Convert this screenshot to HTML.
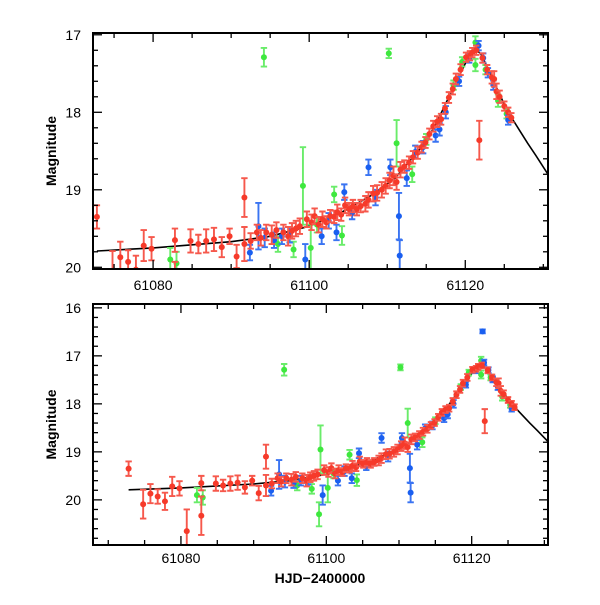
<!DOCTYPE html>
<html><head><meta charset="utf-8"><style>
html,body{margin:0;padding:0;background:#fff}
svg text{font-family:"Liberation Sans",sans-serif;font-size:14px;fill:#000}
</style></head><body>
<svg id="chart" width="600" height="600" viewBox="0 0 600 600" xmlns="http://www.w3.org/2000/svg"></svg>
<script>
const redT=[61072.8,61074.8,61075.8,61076.8,61077.8,61078.8,61079.8,61080.8,61082.8,61082.8,61084.8,61085.8,61086.8,61087.8,61088.8,61089.8,61090.7,61091.7,61091.7,61092.5,61093.3,61093.8,61094.5,61095.2,61095.8,61096.7,61097.3,61097.8,61098.3,61098.8,61099.7,61100.3,61100.7,61101.2,61101.7,61102.2,61102.7,61103.2,61103.6,61104.1,61104.6,61105.1,61105.6,61106.1,61106.6,61107.2,61107.6,61108.2,61108.7,61109.3,61109.8,61110.3,61110.8,61111.2,61111.7,61112.2,61112.8,61113.3,61113.9,61114.4,61114.9,61115.4,61115.9,61116.4,61116.9,61117.4,61117.9,61118.4,61118.8,61119.4,61120.1,61120.6,61120.9,61121.4,61121.8,61122.2,61122.8,61123.4,61123.7,61124.0,61124.4,61125.0,61125.5,61125.9];
const redM=[19.35,20.09,19.87,19.93,20.03,19.72,19.76,20.65,20.33,19.65,19.66,19.70,19.66,19.64,19.74,19.60,19.86,19.10,19.70,19.66,19.55,19.62,19.55,19.58,19.52,19.55,19.60,19.53,19.50,19.47,19.38,19.42,19.34,19.45,19.38,19.42,19.34,19.35,19.29,19.32,19.20,19.25,19.21,19.25,19.21,19.18,19.13,19.05,19.04,19.00,18.95,18.88,18.82,18.90,18.74,18.70,18.65,18.58,18.52,18.45,18.39,18.28,18.18,18.12,18.09,17.95,17.81,17.70,17.57,17.45,17.29,17.27,17.23,17.20,18.36,17.30,17.45,17.55,17.57,17.73,17.80,17.92,18.00,18.07];
const redE=[.15,.3,.2,.15,.18,.2,.15,.45,.4,.15,.15,.12,.15,.15,.13,.1,.15,.25,.22,.1,.1,.1,.1,.12,.1,.1,.12,.1,.1,.1,.1,.1,.1,.1,.1,.08,.08,.08,.1,.08,.1,.08,.08,.08,.08,.1,.1,.1,.1,.1,.1,.1,.12,.1,.1,.08,.08,.08,.08,.07,.07,.07,.07,.07,.07,.07,.07,.07,.07,.07,.06,.06,.06,.06,.25,.06,.06,.08,.1,.1,.08,.06,.06,.06];
const blueT=[61092.4,61093.5,61094.3,61095.5,61096.5,61097.5,61099.5,61101.6,61102.5,61103.5,61104.5,61105.5,61107.6,61108.5,61110.4,61111.5,61111.6,61112.5,61113.6,61114.6,61116.2,61116.7,61117.5,61119.2,61120.5,61121.5,61121.7,61122.3,61122.9,61123.6,61125.5];
const blueM=[19.81,19.47,19.62,19.65,19.60,19.58,19.90,19.60,19.40,19.55,19.03,19.30,18.71,19.10,18.71,19.34,19.85,18.85,18.51,18.45,18.30,18.22,18.00,17.60,17.30,16.49,17.14,17.30,17.49,17.65,18.10];
const blueE=[.1,.3,.12,.1,.1,.1,.2,.1,.1,.1,.1,.08,.1,.1,.1,.3,.2,.1,.08,.08,.08,.08,.08,.06,.06,.04,.06,.06,.06,.06,.06];
const greenT=[61082.2,61083.0,61094.2,61096.0,61098.0,61099.2,61099.0,61100.2,61101.0,61103.2,61104.2,61110.2,61111.2,61113.2,61115.0,61118.5,61119.6,61121.3,61121.3,61122.6,61124.2,61125.3];
const greenM=[19.90,19.95,17.29,19.70,19.77,18.95,20.30,19.75,19.45,19.06,19.59,17.24,18.40,18.80,18.35,17.65,17.35,17.10,17.39,17.45,17.85,18.02];
const greenE=[.15,.15,.12,.1,.1,.5,.25,.3,.1,.1,.12,.06,.3,.1,.07,.06,.06,.08,.08,.06,.08,.06];
const modelT=[61072.8,61080,61090,61095,61100,61104,61108,61111,61114,61116,61118,61120,61121.3,61122,61123,61124,61125,61126,61127,61128,61129,61130.6];
const modelM=[19.79,19.75,19.67,19.6,19.47,19.3,19.07,18.85,18.5,18.2,17.78,17.37,17.18,17.25,17.45,17.68,17.9,18.08,18.24,18.4,18.55,18.8];
const xTickLabels=[61080,61100,61120];
const topYLabels=[17,18,19,20];
const botYLabels=[16,17,18,19,20];

const NS="http://www.w3.org/2000/svg";
const svg=document.getElementById('chart');
function mk(tag,attrs,parent){const e=document.createElementNS(NS,tag);for(const k in attrs)e.setAttribute(k,attrs[k]);(parent||svg).appendChild(e);return e;}

const panels=[
 {name:'top',L:93,R:548,T:33,B:269,t0:61072.3,t1:61130.6,m0:16.977,m1:20.022,yl:topYLabels,lx:290},
 {name:'bottom',L:93,R:548,T:304,B:545,t0:61067.9,t1:61130.5,m0:15.92,m1:20.94,yl:botYLabels,lx:563}
];
panels.forEach((p,pi)=>{
 const xs=t=>p.L+(t-p.t0)/(p.t1-p.t0)*(p.R-p.L);
 const ys=m=>p.T+(m-p.m0)/(p.m1-p.m0)*(p.B-p.T);
 const g=mk('g',{});
 
 
 const cp=mk('clipPath',{id:'clip'+pi},g);
 mk('rect',{x:p.L,y:p.T,width:p.R-p.L,height:p.B-p.T},cp);
 const plot=mk('g',{'clip-path':'url(#clip'+pi+')'},g);
 let d='';
 for(let i=0;i<modelT.length;i++)d+=(i?'L':'M')+xs(modelT[i]).toFixed(1)+','+ys(modelM[i]).toFixed(1);
 const c=mk('path',{d:d,fill:'none',stroke:'#000','stroke-width':1.6},plot);
 
 
 const series=[['green',greenT,greenM,greenE,'#3ee83e','#6aec6a'],['blue',blueT,blueM,blueE,'#1a5ff0','#3a74f2'],['red',redT,redM,redE,'#f63a2a','#f6584c']];
 series.forEach(s=>{
  const sg=mk('g',{},plot);
  
  
  for(let i=0;i<s[1].length;i++){
   const x=xs(s[1][i]),y=ys(s[2][i]),y1=ys(s[2][i]-s[3][i]),y2=ys(s[2][i]+s[3][i]);
   mk('path',{d:`M${x},${y1}V${y2}M${x-3.2},${y1}h6.4M${x-3.2},${y2}h6.4`,stroke:s[5],'stroke-width':1.9,fill:'none'},sg);
   const pt=mk('circle',{cx:x,cy:y,r:3,fill:s[4]},sg);
   
   
  }
 });
 const tk=mk('g',{stroke:'#000','stroke-width':1.3},g);
 for(let t=Math.ceil(p.t0/5)*5;t<=p.t1;t+=5){
  const x=xs(t),L=(t%20===0)?9:5;
  mk('line',{x1:x,x2:x,y1:p.B,y2:p.B-L},tk);
  mk('line',{x1:x,x2:x,y1:p.T,y2:p.T+L},tk);
 }
 for(let k=Math.ceil(p.m0*5);k<=p.m1*5+0.001;k++){
  const y=ys(k/5),L=(k%5===0)?9:5;
  mk('line',{x1:p.L,x2:p.L+L,y1:y,y2:y},tk);
  mk('line',{x1:p.R,x2:p.R-L,y1:y,y2:y},tk);
 }
 const fr=mk('rect',{x:p.L,y:p.T,width:p.R-p.L,height:p.B-p.T,fill:'none',stroke:'#000','stroke-width':2},g);
 
 
 p.yl.forEach(v=>{
  const t=mk('text',{x:p.L-12,y:ys(v)+5,'text-anchor':'end'},g);t.textContent=v;
  
  
 });
 xTickLabels.forEach(v=>{
  const t=mk('text',{x:xs(v),y:p.lx,'text-anchor':'middle'},g);t.textContent=v;
  
  
 });
 const yt=mk('text',{x:0,y:0,'text-anchor':'middle',transform:`translate(56,${(p.T+p.B)/2}) rotate(-90)`,'font-weight':'bold','font-size':'13'},g);
 yt.textContent='Magnitude';
 
 
});
const xt=mk('text',{x:320,y:583,'text-anchor':'middle','font-weight':'bold','font-size':'13'});
xt.textContent='HJD\u22122400000';


</script>
</body></html>
